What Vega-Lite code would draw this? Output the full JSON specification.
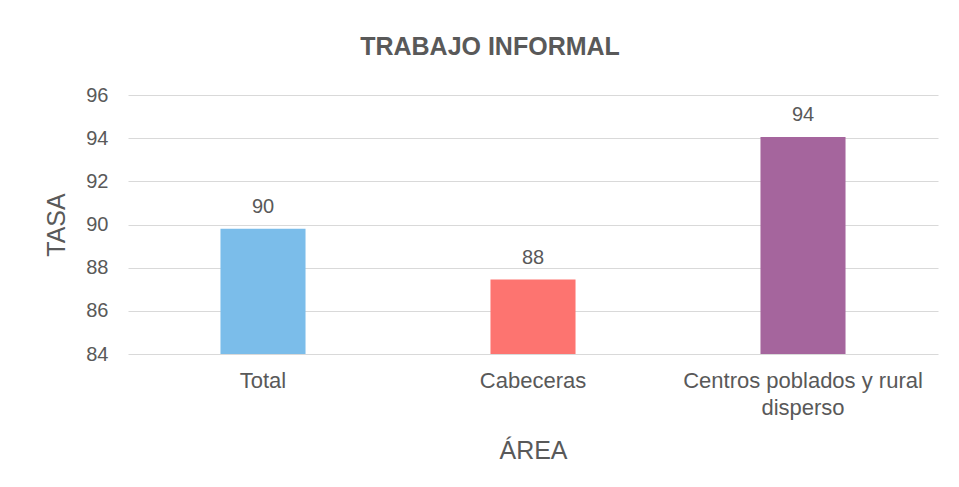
{
  "$schema": "https://vega.github.io/schema/vega-lite/v6.json",
  "width": 810,
  "height": 259,
  "autosize": "none",
  "padding": {"left": 128, "top": 95, "right": 21, "bottom": 133},
  "background": "white",
  "title": {
    "text": "TRABAJO INFORMAL",
    "font": "Liberation Sans",
    "fontSize": 25,
    "fontWeight": "bold",
    "color": "#595959",
    "anchor": "middle",
    "frame": "group",
    "dx": -43,
    "offset": 25
  },
  "data": {
    "values": [
      {"area": "Total", "tasa": 89.8, "etiqueta": "90"},
      {"area": "Cabeceras", "tasa": 87.45, "etiqueta": "88"},
      {"area": "Centros poblados y rural disperso", "tasa": 94.05, "etiqueta": "94"}
    ]
  },
  "encoding": {
    "x": {
      "field": "area",
      "type": "nominal",
      "sort": null,
      "title": "ÁREA",
      "scale": {"paddingInner": 0.685, "paddingOuter": 0.3425},
      "axis": {
        "labelAngle": 0,
        "labelFont": "Liberation Sans",
        "labelFontSize": 22,
        "labelColor": "#595959",
        "labelPadding": 16,
        "labelLimit": 400,
        "labelLineHeight": 27,
        "labelExpr": "datum.label == 'Centros poblados y rural disperso' ? ['Centros poblados y rural', 'disperso'] : datum.label",
        "ticks": false,
        "domain": false,
        "titleFont": "Liberation Sans",
        "titleFontSize": 25,
        "titleFontWeight": "normal",
        "titleColor": "#595959",
        "titlePadding": 20
      }
    },
    "y": {
      "field": "tasa",
      "type": "quantitative",
      "title": "TASA",
      "scale": {"domain": [84, 96], "zero": false, "nice": false},
      "axis": {
        "values": [84, 86, 88, 90, 92, 94, 96],
        "labelFont": "Liberation Sans",
        "labelFontSize": 20,
        "labelColor": "#595959",
        "labelPadding": 20,
        "ticks": false,
        "domain": false,
        "gridColor": "#d9d9d9",
        "titleFont": "Liberation Sans",
        "titleFontSize": 25,
        "titleFontWeight": "normal",
        "titleColor": "#595959",
        "titlePadding": 16
      }
    }
  },
  "layer": [
    {
      "mark": {"type": "bar", "clip": true},
      "encoding": {
        "color": {
          "field": "area",
          "type": "nominal",
          "legend": null,
          "scale": {
            "domain": ["Total", "Cabeceras", "Centros poblados y rural disperso"],
            "range": ["#7bbdea", "#fd7470", "#a5659d"]
          }
        }
      }
    },
    {
      "mark": {
        "type": "text",
        "dy": -22,
        "font": "Liberation Sans",
        "fontSize": 20,
        "color": "#595959"
      },
      "encoding": {"text": {"field": "etiqueta"}}
    }
  ],
  "config": {"view": {"stroke": null}}
}
